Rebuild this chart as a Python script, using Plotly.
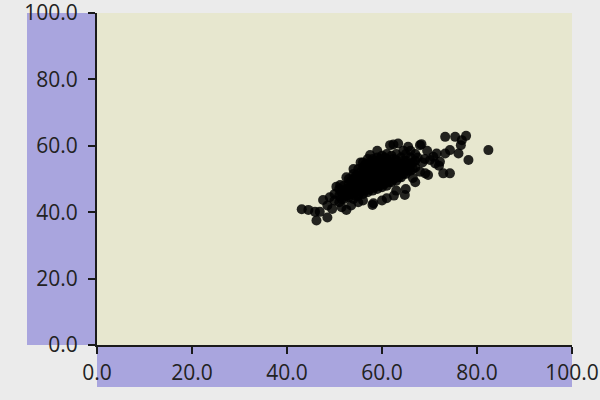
import plotly.graph_objects as go

# Scatter data
x_vals = [
    # core
    50, 50,
    51, 51, 51,
    52, 52, 52,
    53, 53, 53, 53,
    54, 54, 54, 54, 54,
    55, 55, 55, 55, 55,
    56, 56, 56, 56, 56, 56,
    57, 57, 57, 57, 57, 57,
    58, 58, 58, 58, 58, 58,
    59, 59, 59, 59, 59, 59,
    60, 60, 60, 60, 60, 60,
    61, 61, 61, 61, 61, 61,
    62, 62, 62, 62, 62,
    63, 63, 63, 63, 63,
    64, 64, 64, 64,
    65, 65, 65, 65,
    66, 66, 66,
    67, 67, 67,
    52.5, 52.5, 51.5, 51.5, 53.5, 53.5, 53.5,
    54.5, 54.5, 54.5, 54.5, 55.5, 55.5, 55.5, 55.5,
    56.5, 56.5, 56.5, 56.5, 56.5, 57.5, 57.5, 57.5, 57.5, 57.5,
    58.5, 58.5, 58.5, 58.5, 58.5, 59.5, 59.5, 59.5, 59.5, 59.5,
    60.5, 60.5, 60.5, 60.5, 60.5, 61.5, 61.5, 61.5, 61.5,
    62.5, 62.5, 62.5, 62.5, 63.5, 63.5, 63.5,
    64.5, 64.5, 64.5, 65.5, 65.5,
    66.5, 66.5,
    # lower / left edge
    43.1, 44.5, 45.9, 46.9, 46.2, 48.5, 47.6, 48.5, 49.5, 50.4, 52.5, 49.0,
    51.5, 53.5, 55.0, 56.0, 58.2, 58.0, 60.0, 61.0, 62.5, 64.8, 63.0, 65.0,
    66.5, 68.0, 67.0,
    # upper edge
    51.2, 52.5, 54.0, 55.5, 57.5, 59.0, 61.7, 62.4, 63.4, 65.5, 68.0, 68.3,
    66.0, 64.5,
    # right scatter
    73.3, 75.4, 77.7, 76.8, 76.6, 82.4, 78.2, 76.1, 74.3, 73.3, 72.9, 74.3,
    69.7, 69.1, 72.2, 71.5, 70.1, 70.8, 71.2, 69.0, 68.5, 67.5, 69.5, 72.0,
]
y_vals = [
    43.5, 45.5,
    43, 45, 47,
    44, 46, 48,
    44.5, 46.5, 48.5, 50,
    44, 46, 48, 50, 51.5,
    45, 47, 49, 51, 53,
    45.5, 47.5, 49.5, 51.5, 53.5, 55,
    46, 48, 50, 52, 54, 56,
    46.5, 48.5, 50.5, 52.5, 54.5, 56,
    47, 49, 51, 53, 55, 56.5,
    47.5, 49.5, 51.5, 53.5, 55.5, 57,
    48, 50, 52, 54, 56, 57.5,
    49, 51, 53, 55, 57,
    49.5, 51.5, 53.5, 55.5, 57.5,
    50.5, 52.5, 54.5, 56.5,
    51.5, 53.5, 55.5, 57.5,
    52.5, 54.5, 56.5,
    53.5, 55.5, 57.5,
    45, 47, 44, 46, 45.5, 47.5, 49.5,
    45, 47, 49, 51, 46, 48, 50, 52,
    46.5, 48.5, 50.5, 52.5, 54.5, 47, 49, 51, 53, 55,
    47.5, 49.5, 51.5, 53.5, 55.5, 48, 50, 52, 54, 56,
    48.5, 50.5, 52.5, 54.5, 56.5, 49, 51, 53, 55,
    50, 52, 54, 56, 50.5, 52.5, 54.5,
    51.5, 53.5, 55.5, 52.5, 54.5,
    53, 55,
    40.9, 40.7, 40.1, 40.1, 37.5, 38.4, 43.7, 42.0, 41.0, 47.7, 40.7, 44.5,
    41.5, 42.0, 43.0, 43.5, 42.7, 42.2, 43.5, 44.2, 45.0, 45.2, 46.5, 47.0,
    50.3, 52.2, 49.0,
    48.2, 50.5, 53.0, 55.0, 57.2, 58.5, 60.2, 60.4, 60.7, 59.7, 60.2, 60.5,
    58.5, 58.5,
    62.7, 62.7, 63.0, 61.7, 60.2, 58.7, 55.7, 57.7, 58.7, 57.7, 51.7, 51.7,
    51.2, 51.7, 55.2, 57.7, 55.7, 56.7, 54.7, 56.0, 55.0, 56.5, 58.5, 54.0,
]

tick_vals = [0, 20, 40, 60, 80, 100]
tick_text = ["0.0", "20.0", "40.0", "60.0", "80.0", "100.0"]

fig = go.Figure()
fig.add_trace(go.Scatter(
    x=x_vals, y=y_vals, mode="markers",
    marker=dict(color="black", size=10, opacity=0.85, line=dict(width=0)),
    showlegend=False,
))

purple = "#a9a5de"
fig.add_shape(type="rect", xref="paper", yref="paper",
              x0=-70/475, x1=0, y0=0, y1=1,
              fillcolor=purple, line=dict(width=0), layer="below")
fig.add_shape(type="rect", xref="paper", yref="paper",
              x0=0, x1=1, y0=-42/332, y1=0,
              fillcolor=purple, line=dict(width=0), layer="below")

axis_common = dict(
    range=[0, 100], tickvals=tick_vals, ticktext=tick_text,
    showgrid=False, zeroline=False, showline=True, linecolor="#1a1a1a",
    linewidth=2, ticks="outside", ticklen=7, tickwidth=2, tickcolor="#1a1a1a",
    tickfont=dict(family="Open Sans", size=21, color="#222222"),
    automargin=False, ticklabeloverflow="allow",
)
fig.update_xaxes(**axis_common, ticklabelstandoff=1)
fig.update_yaxes(**axis_common, ticklabelstandoff=6)

fig.update_layout(
    width=600, height=400,
    margin=dict(l=97, r=28, t=13, b=55),
    paper_bgcolor="#ebebeb",
    plot_bgcolor="#e7e7cf",
)

fig.write_html("out.html", config={"displayModeBar": False},
               post_script="document.body.style.margin='0px';")
